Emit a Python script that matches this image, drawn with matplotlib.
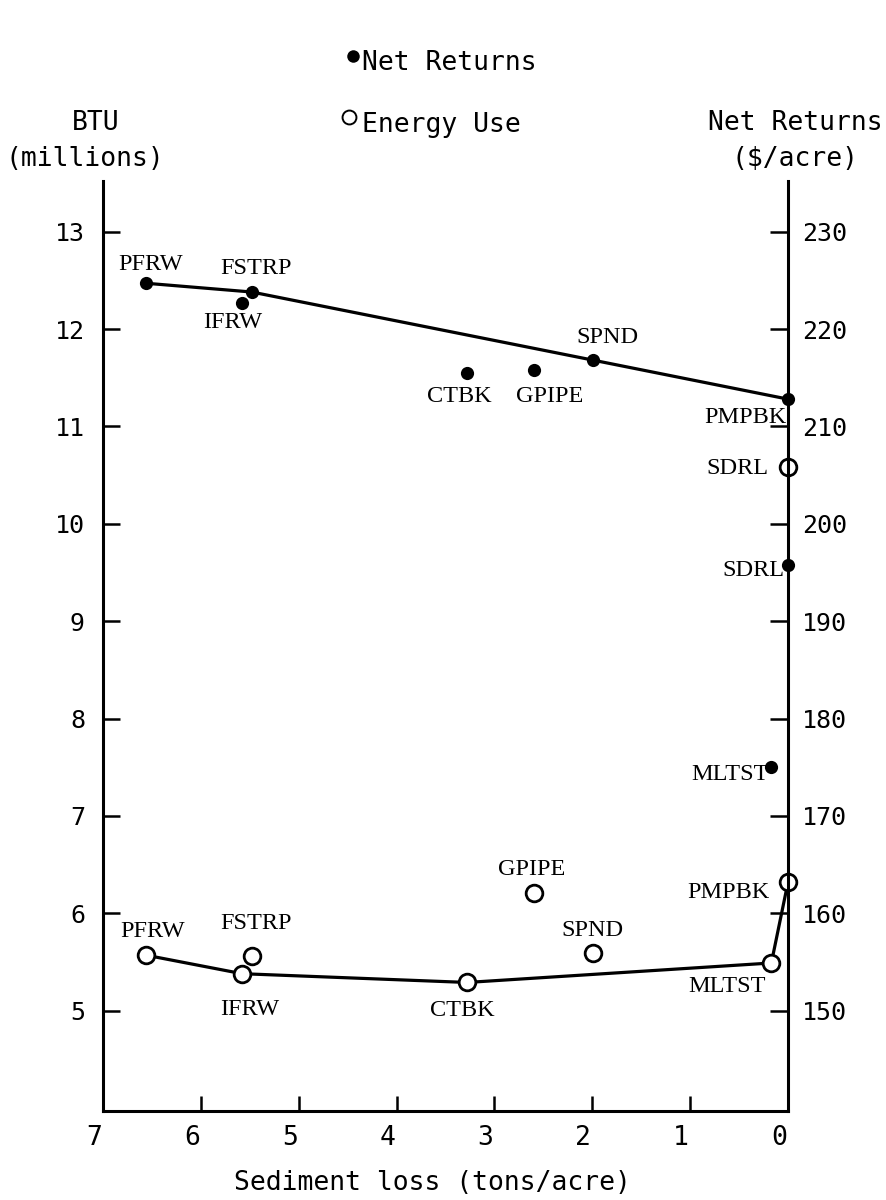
import matplotlib
matplotlib.use("Agg")
import matplotlib.pyplot as plt
from matplotlib.lines import Line2D
from matplotlib.transforms import ScaledTranslation

# practices and sediment loss (tons/acre)
practices = ["PFRW", "IFRW", "FSTRP", "CTBK", "GPIPE", "SPND", "MLTST", "PMPBK", "SDRL"]
sediment = [6.56, 5.58, 5.48, 3.28, 2.60, 1.99, 0.17, 0.0, 0.0]

# net returns ($/acre) and energy use (million BTU)
net_returns = [224.7, 222.7, 223.8, 215.5, 215.8, 216.8, 175.0, 212.8, 195.8]
energy_use = [5.57, 5.38, 5.56, 5.29, 6.21, 5.59, 5.49, 6.32, 10.58]

# points joined by the frontier lines
net_frontier = ["PFRW", "FSTRP", "SPND", "PMPBK"]
energy_frontier = ["PFRW", "IFRW", "CTBK", "MLTST", "PMPBK"]

x_ticks = [7, 6, 5, 4, 3, 2, 1, 0]
btu_ticks = [5, 6, 7, 8, 9, 10, 11, 12, 13]
ret_ticks = [150, 160, 170, 180, 190, 200, 210, 220, 230]

# label placement (pixel offsets from the point, horizontal alignment)
net_lab = {"PFRW": (5, 19, "center"), "FSTRP": (4, 24, "center"),
           "IFRW": (-9, -20, "center"), "CTBK": (-8, -24, "center"),
           "GPIPE": (16, -27, "center"), "SPND": (14, 23, "center"),
           "PMPBK": (-43, -18, "center"), "SDRL": (-3, -6, "right"),
           "MLTST": (-3, -7, "right")}
en_lab = {"PFRW": (7, 24, "center"), "FSTRP": (4, 33, "center"),
          "IFRW": (8, -36, "center"), "CTBK": (-5, -28, "center"),
          "GPIPE": (-2, 23, "center"), "SPND": (-1, 23, "center"),
          "MLTST": (-44, -24, "center"), "PMPBK": (-18, -10, "right"),
          "SDRL": (-19, -1, "right")}

W, H = 887, 1200
mono = "DejaVu Sans Mono"
serif = "Liberation Serif"

fig = plt.figure(figsize=(W / 100, H / 100), dpi=100)
fig.patch.set_facecolor("white")
ax = fig.add_axes([103 / W, 1 - 1111 / H, 685 / W, 930 / H])
ax2 = ax.twinx()

ax.set_xlim(7, 0)
ax.set_ylim(3.97, 13.52)
ax2.set_ylim(139.7, 235.2)

for a in (ax, ax2):
    a.spines["top"].set_visible(False)
    for s in ("left", "right", "bottom"):
        a.spines[s].set_linewidth(2.2)
ax.spines["right"].set_visible(False)
ax2.spines["left"].set_visible(False)
ax2.spines["bottom"].set_visible(False)

ax.set_xticks(x_ticks)
ax.set_xticklabels([str(t) for t in x_ticks], fontfamily=mono, fontsize=19)
ax.set_yticks(btu_ticks)
ax.set_yticklabels([str(t) for t in btu_ticks], fontfamily=mono, fontsize=18)
ax2.set_yticks(ret_ticks)
ax2.set_yticklabels([str(t) for t in ret_ticks], fontfamily=mono, fontsize=18)
ax.tick_params(axis="x", direction="in", length=11, width=1.8, pad=10)
ax.tick_params(axis="y", direction="in", length=12, width=1.8, pad=13)
ax2.tick_params(axis="y", direction="in", length=13, width=1.8, pad=10)

# the typed numbers sit a little left of their ticks
shift = ScaledTranslation(-9 / 100, 0, fig.dpi_scale_trans)
for lab in ax.get_xticklabels():
    lab.set_transform(lab.get_transform() + shift)

pos = {p: i for i, p in enumerate(practices)}

# net returns (filled dots, right axis)
nx = [sediment[pos[p]] for p in net_frontier]
ny = [net_returns[pos[p]] for p in net_frontier]
ax2.plot(nx, ny, color="black", lw=2.3, zorder=2, clip_on=False)
ax2.plot(sediment, net_returns, "o", color="black", ms=9.5, mew=0,
         zorder=3, clip_on=False)

# energy use (open circles, left axis)
ex = [sediment[pos[p]] for p in energy_frontier]
ey = [energy_use[pos[p]] for p in energy_frontier]
ax.plot(ex, ey, color="black", lw=2.3, zorder=2, clip_on=False)
ax.plot(sediment, energy_use, "o", mfc="white", mec="black", ms=12,
        mew=2, zorder=3, clip_on=False)

for p in practices:
    dx, dy, ha = net_lab[p]
    ax2.annotate(p, (sediment[pos[p]], net_returns[pos[p]]),
                 xytext=(dx * 0.72, dy * 0.72), textcoords="offset points",
                 ha=ha, va="center", fontfamily=serif, fontsize=17.5,
                 annotation_clip=False)
    dx, dy, ha = en_lab[p]
    ax.annotate(p, (sediment[pos[p]], energy_use[pos[p]]),
                xytext=(dx * 0.72, dy * 0.72), textcoords="offset points",
                ha=ha, va="center", fontfamily=serif, fontsize=17.5,
                annotation_clip=False)


def ftext(x, y, s, size=19, **kw):
    fig.text(x / W, 1 - y / H, s, fontfamily=mono, fontsize=size,
             va="center", **kw)


# key at the top
fig.add_artist(Line2D([353 / W], [1 - 56 / H], marker="o", color="black",
                      ms=9, mew=0, transform=fig.transFigure))
ftext(362, 63, "Net Returns", ha="left")
fig.add_artist(Line2D([349 / W], [1 - 117 / H], marker="o", mfc="none",
                      mec="black", ms=10, mew=1.4, transform=fig.transFigure))
ftext(362, 125, "Energy Use", ha="left")

# axis titles
ftext(96, 123, "BTU", ha="center")
ftext(85, 159, "(millions)", ha="center")
ftext(795, 123, "Net Returns", ha="center")
ftext(795, 159, r"(\$/acre)", ha="center")
ftext(432, 1183, "Sediment loss (tons/acre)", ha="center")

fig.savefig("out.png", dpi=100, facecolor="white")
